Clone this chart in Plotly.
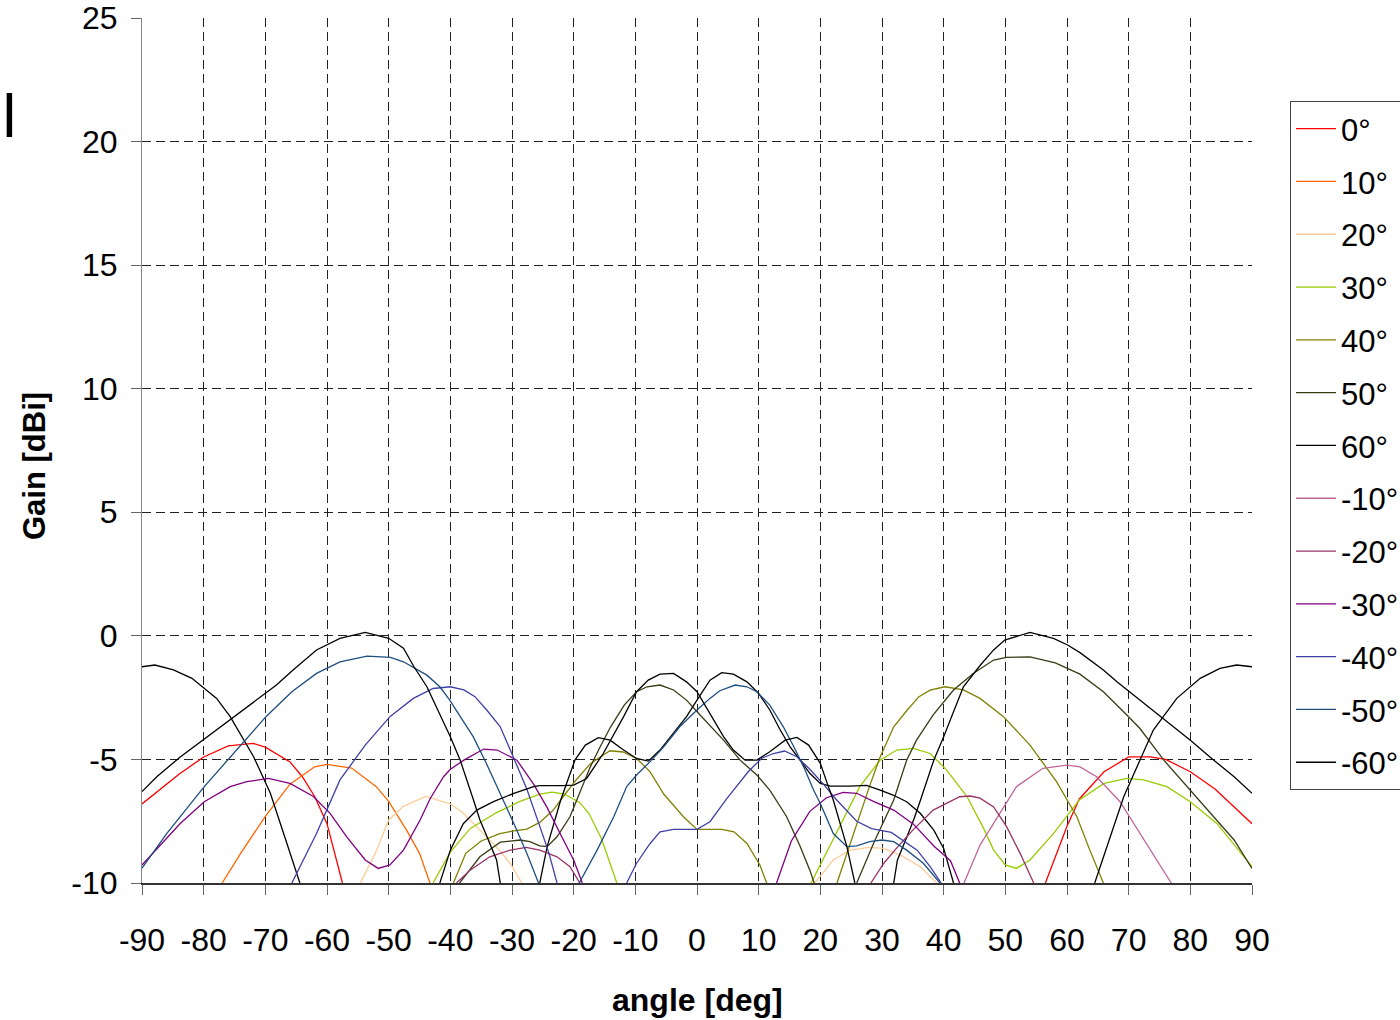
import plotly.graph_objects as go

# Antenna gain patterns (dBi) versus observation angle (deg), one curve per
# beam-steering phase setting.  Lobes that dip below the -10 dBi floor are
# separated with None so each visible lobe is drawn on its own.

ANGLE_P0 = [-90, -84, -80, -76, -72, -70, -66, -64, -62, -60, -57.5, None,
            56.5, 60, 62, 66, 70, 73.5, 76, 80, 84, 90]
GAIN_P0 = [-6.8, -5.6, -4.9, -4.45, -4.35, -4.5, -5.1, -5.7, -6.5, -7.6, -10, None,
           -10, -7.7, -6.6, -5.5, -4.9, -4.9, -5.0, -5.5, -6.2, -7.6]

ANGLE_P10 = [-77, -74, -70, -66, -62, -60, -56, -52, -50, -47, -45, -43.3]
GAIN_P10 = [-10, -8.8, -7.3, -6.0, -5.3, -5.2, -5.35, -6.1, -6.7, -7.9, -8.8, -10]

ANGLE_P20 = [-54.6, -52, -50, -47.6, -44, -40, -38, -35, -32.5, -30.3, -28.4, None,
             19.1, 22.1, 24.8, 28, 30.2, 33, 36.2, 38.9]
GAIN_P20 = [-10, -8.7, -7.45, -6.9, -6.5, -6.8, -7.15, -7.9, -8.55, -9.2, -10, None,
            -10, -9.07, -8.67, -8.56, -8.6, -8.87, -9.34, -10]

ANGLE_P30 = [-42.8, -40, -36.8, -32.5, -28.7, -25.5, -23.5, -21.5, -19, -17.5, -15.5, -13, None,
             18.5, 22.1, 26.4, 29.7, 32.4, 35.1, 37.8, 40.5, 43.8, 46.5, 48.1, 50, 51.8,
             54, 57.8, 62, 66, 69.7, 72.4, 76.2, 80, 84.3, 90]
GAIN_P30 = [-10, -8.75, -7.8, -7.15, -6.7, -6.4, -6.32, -6.4, -6.75, -7.2, -8.2, -10, None,
            -10, -8.2, -6.1, -5.03, -4.62, -4.55, -4.76, -5.43, -6.51, -7.8, -8.67, -9.27, -9.41,
            -9.07, -8.0, -6.64, -5.97, -5.77, -5.83, -6.1, -6.71, -7.59, -9.34]

ANGLE_P40 = [-39.5, -37.5, -35, -32, -29.7, -27.6, -25.5, -23.3, -21.7, -19.5, -17.4, -16,
             -14.1, -12, -9.8, -7.6, -5.4, -2.2, 0, 4, 6, 8.1, 10.2, 11.3, None,
             22.7, 24.3, 25.9, 28.1, 29.7, 31.9, 34.1, 36, 37.8, 40.2, 43.2, 45.9, 49.7,
             54, 58.3, 61.6, 63.7, 65.9]
GAIN_P40 = [-10, -8.8, -8.3, -8.0, -7.89, -7.82, -7.55, -7.05, -6.51, -5.8, -5.2, -4.95,
            -4.65, -4.7, -4.96, -5.5, -6.4, -7.32, -7.83, -7.83, -7.93, -8.4, -9.27, -10, None,
            -10, -8.8, -7.6, -6.0, -4.9, -3.68, -3.0, -2.46, -2.2, -2.06, -2.19, -2.53, -3.27,
            -4.42, -5.9, -7.32, -8.67, -10]

ANGLE_P50 = [-38.5, -35.2, -31.9, -28.7, -27.1, -25.5, -24.3, -22.7, -20.6, -17.3, -15.7,
             -14, -11.8, -9.8, -8.1, -6.0, -3.8, -1.7, 0.5, 4.3, 7.0, 9.7, 11.8, 14.5, 16.7,
             18.3, 19.0, None,
             25.9, 28.8, 31.9, 34, 35.6, 38.3, 41.6, 44.8, 48.1, 50.2, 54, 58.1, 62.1, 65.9,
             69.7, 71.8, 75.7, 80, 83.8, 87.1, 90]
GAIN_P50 = [-10, -8.94, -8.35, -8.26, -8.33, -8.5, -8.53, -8.13, -7.32, -5.3, -4.49,
            -3.68, -2.8, -2.26, -2.06, -1.99, -2.19, -2.6, -3.2, -4.22, -5.03, -5.63, -6.24,
            -7.3, -8.5, -9.48, -10, None,
            -10, -8.3, -6.64, -5.03, -4.22, -3.2, -2.19, -1.52, -0.98, -0.87, -0.85, -1.09,
            -1.55, -2.26, -3.2, -3.74, -5.03, -6.24, -7.32, -8.26, -9.41]

ANGLE_P60 = [-90, -87.9, -84.9, -81.9, -77.9, -75.7, -71.9, -69.2, -66.5, -64.4, None,
             -25.5, -24.3, -22.1, -21.3, -19.8, -18.1, -16, -14.1, -11.9, -9.8, -7.9, -6,
             -3.8, -1.7, 0, 2.1, 4.0, 5.9, 8.1, 10, 11.8, 13.5, 15.1, 16.7, 18.3, 20, 21.6,
             24.8, 27.5, 29.7, 31.8, 34, 36.2, 38.4, 40, 41.6, None,
             31.9, 32.5, 34.1, 35.2, 36.3, 38.4, 40, 43.2, 45.9, 48.1, 49.9, 54, 57.8, 60.1,
             62.1, 65.9, 68.1, 71.8, 75.6, 80, 83.8, 87.1, 90]
GAIN_P60 = [-1.25, -1.18, -1.38, -1.72, -2.53, -3.27, -4.89, -6.36, -8.4, -10, None,
            -10, -8.53, -6.64, -6.1, -5.03, -4.42, -4.12, -4.22, -4.62, -4.96, -5.07, -4.62,
            -3.95, -3.27, -2.6, -1.79, -1.49, -1.55, -1.86, -2.33, -3.0, -3.81, -4.49, -5.03,
            -5.56, -5.97, -6.08, -6.08, -6.05, -6.24, -6.44, -6.71, -7.18, -7.86, -8.6, -10,
            None,
            -10, -9.07, -8.1, -7.4, -6.6, -5.03, -4.08, -2.06, -1.2, -0.57, -0.17, 0.14, -0.1,
            -0.37, -0.68, -1.38, -1.86, -2.6, -3.34, -4.22, -5.03, -5.7, -6.37]

ANGLE_M10 = [43.3, 45.9, 48.1, 51.8, 56.1, 60, 62.1, 64.8, 68.6, 72.9, 76.9]
GAIN_M10 = [-10, -8.46, -7.59, -6.1, -5.36, -5.23, -5.3, -5.7, -6.71, -8.4, -10]

ANGLE_M20 = [-39, -36.8, -33.6, -30.3, -27.7, -25.5, -22.7, -20.6, -19, None,
             28.2, 30.3, 32.5, 35, 38.3, 42.6, 44.3, 45.9, 48.1, 50.2, 52.4, 54.6]
GAIN_M20 = [-10, -9.48, -8.94, -8.67, -8.56, -8.67, -8.94, -9.34, -10, None,
            -10, -9.2, -8.55, -7.86, -7.05, -6.51, -6.48, -6.57, -6.92, -7.72, -8.8, -10]

ANGLE_M30 = [-90, -83.8, -79.9, -75.7, -73, -69.5, -66, -62.2, -59.5, -56.8, -53.8, -51.7,
             -49.8, -47.6, -44.9, -43.3, -41.1, -40, -37.8, -34.6, -32.4, -29.2, -26.5, -24.3,
             -22.2, -20, -18.6, None,
             12.9, 15.3, 18.3, 21, 23.7, 25.9, 28.6, 31.9, 35.1, 38.4, 41.1, 42.6]
GAIN_M30 = [-9.27, -7.59, -6.71, -6.1, -5.9, -5.77, -5.97, -6.5, -7.18, -8.13, -9.07, -9.41,
            -9.27, -8.67, -7.45, -6.6, -5.7, -5.4, -5.03, -4.58, -4.62, -5.03, -6.0, -6.95,
            -8.0, -9.07, -10, None,
            -10, -8.3, -7.1, -6.55, -6.33, -6.37, -6.7, -7.05, -7.62, -8.5, -9.1, -10]

ANGLE_M40 = [-65.7, -61.7, -57.9, -53.8, -49.8, -46, -42.8, -40, -37.8, -36, -34.1, -31.9,
             -29.7, -27.6, -25.5, -24, -22.7, None,
             -11.4, -9.8, -7.6, -6.0, -3.8, 0, 2.1, 4.8, 8.3, 10.5, 12.4, 14.2, 16.2, 18.3,
             20.5, 22.5, 25.9, 28.3, 31.5, 33.5, 35.7, 37.8, 39.6]
GAIN_M40 = [-10, -8.0, -5.83, -4.42, -3.27, -2.53, -2.13, -2.06, -2.19, -2.46, -3.0, -3.68,
            -4.95, -6.2, -7.7, -8.8, -10, None,
            -10, -9.2, -8.4, -7.93, -7.83, -7.83, -7.52, -6.6, -5.5, -4.95, -4.76, -4.66,
            -4.89, -5.4, -6.0, -6.6, -7.5, -7.8, -7.95, -8.3, -8.67, -9.34, -10]

ANGLE_M50 = [-90, -86, -79.9, -75.7, -69.9, -65.7, -61.7, -57.9, -53.5, -49.7, -47.6, -43.8,
             -41.7, -40.1, -36.3, -34.4, -31.9, -29.7, -27.6, -25.7, None,
             -19.1, -16.2, -13.5, -11.4, -9.8, -7.6, -5.4, -2.8, 0, 2.1, 3.7, 6.2, 8.1, 9.7,
             11.8, 14, 15.7, 17.3, 18.9, 20, 22.1, 24.3, 25.9, 28, 30, 31.9, 34, 36.7, 39.4]
GAIN_M50 = [-9.4, -8.0, -6.1, -4.9, -3.27, -2.26, -1.52, -1.05, -0.82, -0.87, -1.05, -1.59,
            -2.06, -2.6, -4.08, -5.03, -6.37, -7.59, -8.8, -10, None,
            -10, -8.67, -7.32, -6.1, -5.63, -5.09, -4.49, -3.68, -3.0, -2.53, -2.22, -1.99,
            -2.06, -2.26, -2.8, -3.68, -4.49, -5.3, -6.24, -6.78, -8.0, -8.53, -8.5, -8.33,
            -8.26, -8.33, -8.67, -9.2, -10]

ANGLE_M60 = [-90, -87.6, -83.8, -79.8, -75.7, -71.9, -68.2, -65.5, -61.7, -57.9, -53.8, -50,
             -47.6, -45.9, -43.8, -40, -38.4, -36.3, -35.2, -34.1, -32.5, -31.9, None,
             -41.7, -40, -37.9, -35.7, -33, -29.7, -26.5, -25.5, -21.7, -20, -17.9, -15.2,
             -11.9, -9.8, -7.9, -6, -3.8, -1.7, 0, 2.1, 4.3, 5.9, 7.8, 9.7, 11.8, 14.3, 16.2,
             18.1, 20, 21.3, 22.1, 24.3, 25.6, None,
             64.5, 69.2, 74, 77.8, 81.6, 84.8, 87.5, 90]
GAIN_M60 = [-6.3, -5.7, -4.9, -4.15, -3.4, -2.67, -1.99, -1.38, -0.57, -0.1, 0.14, -0.1,
            -0.5, -1.25, -2.06, -4.08, -5.03, -6.6, -7.45, -8.1, -9.07, -10, None,
            -10, -8.67, -7.6, -7.05, -6.71, -6.37, -6.1, -6.06, -6.06, -6.04, -5.77, -4.76,
            -3.27, -2.26, -1.79, -1.55, -1.52, -1.86, -2.26, -3.14, -4.08, -4.62, -5.03,
            -5.03, -4.69, -4.22, -4.11, -4.42, -5.16, -6.1, -6.64, -8.53, -10, None,
            -10, -6.51, -3.81, -2.53, -1.72, -1.32, -1.18, -1.25]

SERIES_NAMES = ["0°", "10°", "20°", "30°", "40°", "50°", "60°",
                "-10°", "-20°", "-30°", "-40°", "-50°", "-60°"]
SERIES_ANGLES = [ANGLE_P0, ANGLE_P10, ANGLE_P20, ANGLE_P30, ANGLE_P40, ANGLE_P50, ANGLE_P60,
                 ANGLE_M10, ANGLE_M20, ANGLE_M30, ANGLE_M40, ANGLE_M50, ANGLE_M60]
SERIES_GAINS = [GAIN_P0, GAIN_P10, GAIN_P20, GAIN_P30, GAIN_P40, GAIN_P50, GAIN_P60,
                GAIN_M10, GAIN_M20, GAIN_M30, GAIN_M40, GAIN_M50, GAIN_M60]
SERIES_COLORS = ["#FF0000", "#FF6600", "#FFCC99", "#99CC00", "#808000", "#3A3A14", "#000000",
                 "#C0669A", "#993366", "#800080", "#4040A8", "#1F4E80", "#000000"]

X_TICKS = list(range(-90, 91, 10))
Y_TICKS = list(range(-10, 26, 5))

FONT = "Liberation Sans, Arial, sans-serif"

fig = go.Figure()
for i, (name, xs, ys, col) in enumerate(zip(SERIES_NAMES, SERIES_ANGLES, SERIES_GAINS,
                                             SERIES_COLORS)):
    fig.add_trace(go.Scatter(
        x=xs, y=ys, name=name, mode="lines",
        line=dict(color=col, width=1.3),
        legendgroup="g%d" % i,
        connectgaps=False,
    ))

fig.update_layout(
    width=1400, height=1020,
    margin=dict(l=142, r=148, t=18, b=137, autoexpand=False),
    paper_bgcolor="white", plot_bgcolor="white",
    font=dict(family=FONT, size=32, color="black"),
    showlegend=True,
    legend=dict(
        x=(1290 - 142) / 1110, xanchor="left",
        y=1 - (101 - 18) / 865, yanchor="top",
        bgcolor="white", bordercolor="#444444", borderwidth=1,
        font=dict(family=FONT, size=31, color="black"),
        tracegroupgap=9.5, itemwidth=40,
    ),
    xaxis=dict(
        range=[-90, 90], tickvals=X_TICKS, ticktext=[str(v) for v in X_TICKS],
        showgrid=True, gridcolor="#222222", gridwidth=1, griddash="9px,5px",
        zeroline=False, showline=True, linecolor="#333333", linewidth=2,
        ticks="outside", ticklen=10, tickcolor="#666666", tickwidth=1,
        ticklabelstandoff=18, tickfont=dict(family=FONT, size=32),
        mirror=False,
    ),
    yaxis=dict(
        range=[-10, 25], tickvals=Y_TICKS, ticktext=[str(v) for v in Y_TICKS],
        showgrid=True, gridcolor="#222222", gridwidth=1, griddash="9px,5px",
        zeroline=False, showline=True, linecolor="#888888", linewidth=1,
        ticks="outside", ticklen=10, tickcolor="#666666", tickwidth=1,
        ticklabelstandoff=7, tickfont=dict(family=FONT, size=32),
    ),
    annotations=[
        dict(text="<b>Gain [dBi]</b>", xref="paper", yref="paper",
             x=(35 - 142) / 1110, y=1 - (466 - 18) / 865, xanchor="center",
             yanchor="middle", textangle=-90, showarrow=False,
             font=dict(family=FONT, size=31, color="black")),
        dict(text="<b>angle [deg]</b>", xref="paper", yref="paper",
             x=0.5, y=-(1000 - 883) / 865, xanchor="center", yanchor="middle",
             showarrow=False, font=dict(family=FONT, size=32, color="black")),
        dict(text="ol", xref="paper", yref="paper",
             x=(17.7 - 142) / 1110, y=1 - (115.5 - 18) / 865, xanchor="right",
             yanchor="middle", showarrow=False,
             font=dict(family=FONT, size=62, color="black")),
    ],
)

fig.write_html("out.html")
